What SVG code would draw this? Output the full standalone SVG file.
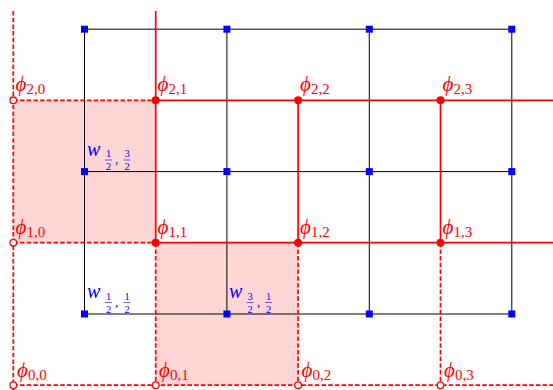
<svg xmlns="http://www.w3.org/2000/svg" width="553" height="390" viewBox="0 0 553 390">
<style>
.bg{fill:#ffffff}
.cell{fill:#ffd6d6;stroke:none}
.blk{stroke:#000;stroke-width:1;fill:none}
.rs{stroke:#ff0000;stroke-width:1.7;fill:none}
.rd{stroke:#ff0000;stroke-width:1.7;fill:none;stroke-dasharray:4.5,2.2}
.dot{fill:#ff0000;stroke:none}
.odot{fill:#ffffff;stroke:#ff0000;stroke-width:1.3}
.sq{fill:#0000ff}
.phi{font-family:"Liberation Serif",serif;font-style:italic;font-size:21px;fill:#ff0000}
.sub{font-family:"Liberation Serif",serif;font-style:normal;font-size:15px;fill:#ff0000}
.w{font-family:"Liberation Serif",serif;font-style:italic;font-size:20px;fill:#0000ff}
.fr{font-family:"Liberation Serif",serif;font-size:10.5px;fill:#0000ff;text-anchor:middle}
.cm{font-family:"Liberation Serif",serif;font-size:13px;fill:#0000ff}
.bar{stroke:#0000ff;stroke-width:0.6}
</style>
<rect class="bg" x="0" y="0" width="553" height="390"/>
<g id="cells">
<rect class="cell" x="13.3" y="100.3" width="142.4" height="142.4"/>
<rect class="cell" x="155.7" y="242.7" width="142.4" height="142.4"/>
</g>
<g id="connectors">
<g id="dual-grid">
<line class="blk" x1="84.5" y1="29.2" x2="511.8" y2="29.2"/>
<line class="blk" x1="84.5" y1="171.6" x2="511.8" y2="171.6"/>
<line class="blk" x1="84.5" y1="314" x2="511.8" y2="314"/>
<line class="blk" x1="84.5" y1="29.2" x2="84.5" y2="314"/>
<line class="blk" x1="226.9" y1="29.2" x2="226.9" y2="314"/>
<line class="blk" x1="369.3" y1="29.2" x2="369.3" y2="314"/>
<line class="blk" x1="511.8" y1="29.2" x2="511.8" y2="314"/>
</g>
<g id="red-grid">
<line class="rd" x1="13.3" y1="100.3" x2="155.7" y2="100.3"/>
<line class="rs" x1="155.7" y1="100.3" x2="553" y2="100.3"/>
<line class="rd" x1="13.3" y1="242.7" x2="155.7" y2="242.7"/>
<line class="rs" x1="155.7" y1="242.7" x2="553" y2="242.7"/>
<line class="rd" x1="13.3" y1="385.2" x2="553" y2="385.2"/>
<line class="rd" x1="13.3" y1="11" x2="13.3" y2="390"/>
<line class="rs" x1="155.7" y1="11" x2="155.7" y2="242.7"/>
<line class="rd" x1="155.7" y1="242.7" x2="155.7" y2="385.2"/>
<line class="rs" x1="298.1" y1="100.3" x2="298.1" y2="242.7"/>
<line class="rd" x1="298.1" y1="242.7" x2="298.1" y2="385.2"/>
<line class="rs" x1="440.5" y1="100.3" x2="440.5" y2="242.7"/>
<line class="rd" x1="440.5" y1="242.7" x2="440.5" y2="385.2"/>
</g>
</g>
<g id="w-nodes">
<rect class="sq" x="81" y="25.7" width="7" height="7"/>
<rect class="sq" x="223.4" y="25.7" width="7" height="7"/>
<rect class="sq" x="365.8" y="25.7" width="7" height="7"/>
<rect class="sq" x="508.3" y="25.7" width="7" height="7"/>
<rect class="sq" x="365.8" y="168.1" width="7" height="7"/>
<rect class="sq" x="508.3" y="168.1" width="7" height="7"/>
<rect class="sq" x="223.4" y="168.1" width="7" height="7"/>
<rect class="sq" x="365.8" y="310.5" width="7" height="7"/>
<rect class="sq" x="508.3" y="310.5" width="7" height="7"/>
</g>
<g id="w-half-3half">
<rect class="sq" x="81" y="168.1" width="7" height="7"/>
<text class="w" x="87" y="156">w</text>
<text class="fr" x="108.5" y="157">1</text><line class="bar" x1="105" y1="160" x2="112" y2="160"/><text class="fr" x="108.5" y="170">2</text>
<text class="cm" x="115" y="163">,</text>
<text class="fr" x="127" y="157">3</text><line class="bar" x1="123.5" y1="160" x2="130.5" y2="160"/><text class="fr" x="127" y="170">2</text>
</g>
<g id="w-half-half">
<rect class="sq" x="81" y="310.5" width="7" height="7"/>
<text class="w" x="87" y="298">w</text>
<text class="fr" x="108.5" y="299.5">1</text><line class="bar" x1="105" y1="302.5" x2="112" y2="302.5"/><text class="fr" x="108.5" y="312.5">2</text>
<text class="cm" x="115" y="305.5">,</text>
<text class="fr" x="127" y="299.5">1</text><line class="bar" x1="123.5" y1="302.5" x2="130.5" y2="302.5"/><text class="fr" x="127" y="312.5">2</text>
</g>
<g id="w-3half-half">
<rect class="sq" x="223.4" y="310.5" width="7" height="7"/>
<text class="w" x="229" y="298">w</text>
<text class="fr" x="250" y="299.5">3</text><line class="bar" x1="246.5" y1="302.5" x2="253.5" y2="302.5"/><text class="fr" x="250" y="312.5">2</text>
<text class="cm" x="257" y="305.5">,</text>
<text class="fr" x="268.5" y="299.5">1</text><line class="bar" x1="265" y1="302.5" x2="272" y2="302.5"/><text class="fr" x="268.5" y="312.5">2</text>
</g>
<g id="phi-2-0"><circle class="odot" cx="13.3" cy="100.3" r="3.3"/><text class="phi" x="15.5" y="91">ϕ<tspan class="sub" dy="3">2,0</tspan></text></g>
<g id="phi-2-1"><circle class="dot" cx="155.7" cy="100.3" r="4"/><text class="phi" x="157.5" y="91">ϕ<tspan class="sub" dy="3">2,1</tspan></text></g>
<g id="phi-2-2"><circle class="dot" cx="298.1" cy="100.3" r="4"/><text class="phi" x="300" y="91">ϕ<tspan class="sub" dy="3">2,2</tspan></text></g>
<g id="phi-2-3"><circle class="dot" cx="440.5" cy="100.3" r="4"/><text class="phi" x="442.5" y="91">ϕ<tspan class="sub" dy="3">2,3</tspan></text></g>
<g id="phi-1-0"><circle class="odot" cx="13.3" cy="242.7" r="3.3"/><text class="phi" x="15.5" y="233.5">ϕ<tspan class="sub" dy="3">1,0</tspan></text></g>
<g id="phi-1-1"><circle class="dot" cx="155.7" cy="242.7" r="4"/><text class="phi" x="157.5" y="233.5">ϕ<tspan class="sub" dy="3">1,1</tspan></text></g>
<g id="phi-1-2"><circle class="dot" cx="298.1" cy="242.7" r="4"/><text class="phi" x="300" y="233.5">ϕ<tspan class="sub" dy="3">1,2</tspan></text></g>
<g id="phi-1-3"><circle class="dot" cx="440.5" cy="242.7" r="4"/><text class="phi" x="442.5" y="233.5">ϕ<tspan class="sub" dy="3">1,3</tspan></text></g>
<g id="phi-0-0"><circle class="odot" cx="13.3" cy="385.2" r="3.3"/><text class="phi" x="17" y="377">ϕ<tspan class="sub" dy="3">0,0</tspan></text></g>
<g id="phi-0-1"><circle class="odot" cx="155.7" cy="385.2" r="3.3"/><text class="phi" x="159" y="377">ϕ<tspan class="sub" dy="3">0,1</tspan></text></g>
<g id="phi-0-2"><circle class="odot" cx="298.1" cy="385.2" r="3.3"/><text class="phi" x="301.5" y="377">ϕ<tspan class="sub" dy="3">0,2</tspan></text></g>
<g id="phi-0-3"><circle class="odot" cx="440.5" cy="385.2" r="3.3"/><text class="phi" x="444" y="377">ϕ<tspan class="sub" dy="3">0,3</tspan></text></g>
</svg>
